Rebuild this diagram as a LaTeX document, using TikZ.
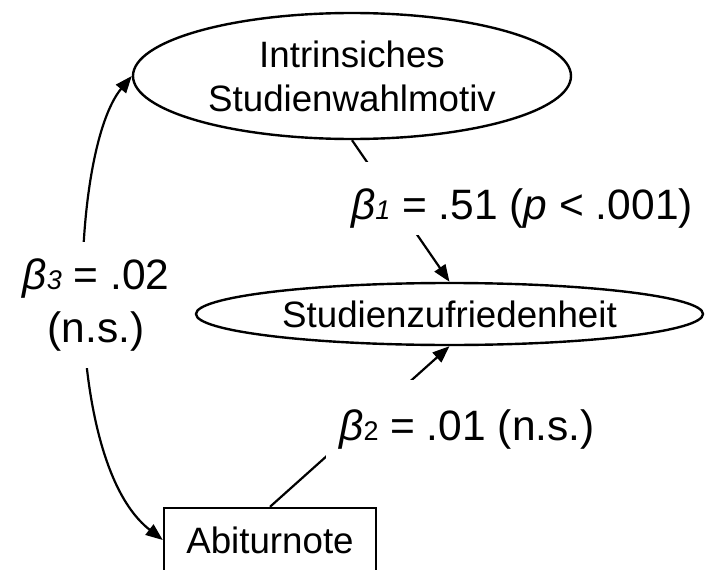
\documentclass[tikz,border=0pt]{standalone}
\usepackage{fontspec}
\setmainfont{Liberation Sans}
\usetikzlibrary{shapes.geometric,arrows.meta}
\begin{document}
\begin{tikzpicture}[x=1pt,y=-1pt,
  conn/.style={line width=2.2pt},
  tip/.tip={Triangle[length=17pt,width=13pt]},
  latent/.style={ellipse,draw,line width=2.4pt,inner sep=0pt,align=center,
    font=\fontsize{36.7}{44}\selectfont},
  manifest/.style={rectangle,draw,line width=2.4pt,inner sep=0pt,
    font=\fontsize{36.7}{44}\selectfont},
  lab/.style={fill=white,inner sep=0pt,font=\fontsize{42.5}{53}\selectfont},
]
\useasboundingbox (0,0) rectangle (705,570);
\node[latent,minimum width=438pt,minimum height=126pt] (intr) at (352,76) {Intrinsiches\\Studienwahlmotiv};
\node[latent,minimum width=507pt,minimum height=62pt] (zuf) at (449.5,314) {Studienzufriedenheit};
\node[manifest,minimum width=212pt,minimum height=64pt] (abi) at (270,540) {Abiturnote};

\draw[conn,-tip] (intr.south) -- (zuf.north);
\draw[conn,-tip] (abi.north) -- (zuf.south);
\draw[conn,tip-tip] (abi.west) .. controls (60,460) and (70,150) .. (intr.west);

\node[lab,anchor=base,text height=57pt,text depth=16pt,inner xsep=3pt] (l1) at (522,219)
  {\textit{β}{\fontsize{27}{27}\selectfont\itshape 1} = .51 (\textit{p} < .001)};
\node[lab,anchor=base,text height=60pt,text depth=19pt,inner xsep=13pt] (l2) at (467,440)
  {\textit{β}{\fontsize{27}{27}\selectfont 2} = .01 (n.s.)};
\node[lab,align=center,minimum height=126pt,inner xsep=2pt] (l3) at (96,305)
  {\textit{β}{\fontsize{27}{27}\selectfont\itshape 3} = .02\\(n.s.)};
\end{tikzpicture}
\end{document}
